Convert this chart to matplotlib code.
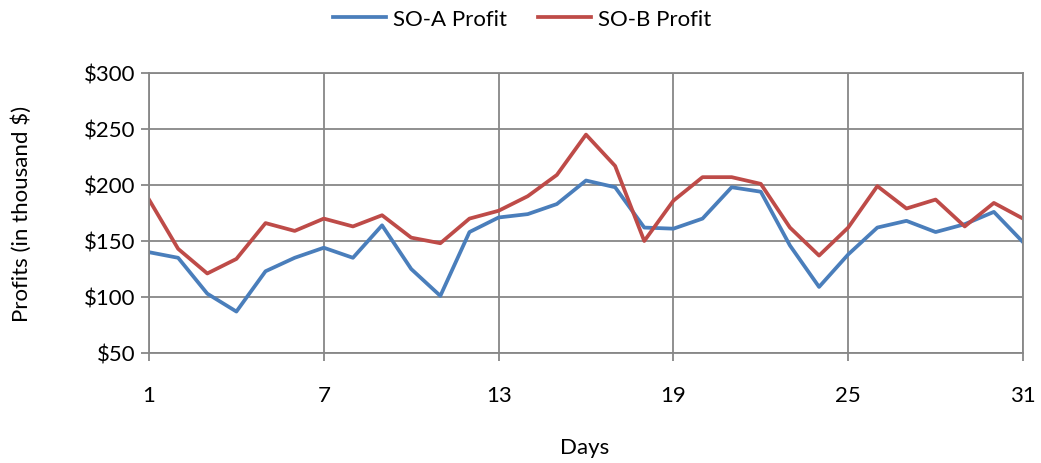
import matplotlib
matplotlib.use("Agg")
import matplotlib.pyplot as plt
from matplotlib.ticker import FuncFormatter

days = list(range(1, 32))
so_a = [140, 135, 103, 87, 123, 135, 144, 135, 164, 125, 101,
        158, 171, 174, 183, 204, 198, 162, 161, 170, 198, 194,
        146, 109, 138, 162, 168, 158, 165, 176, 149]
so_b = [187, 143, 121, 134, 166, 159, 170, 163, 173, 153, 148,
        170, 177, 190, 209, 245, 217, 150, 186, 207, 207, 201,
        162, 137, 162, 199, 179, 187, 163, 184, 170]
x_ticks = [1, 7, 13, 19, 25, 31]
y_ticks = [50, 100, 150, 200, 250, 300]

plt.rcParams['font.family'] = ['Lato', 'DejaVu Sans']
FS = 16

fig = plt.figure(figsize=(10.41, 4.64), dpi=100)
ax = fig.add_axes([149/1041, 1-354/464, (1023-149)/1041, (354-74)/464])

grid_c = '#878787'
ax.plot(days, so_a, color='#4a7ebb', lw=2.7, label='SO-A Profit')
ax.plot(days, so_b, color='#be4b48', lw=2.7, label='SO-B Profit')

ax.set_xlim(1, 31)
ax.set_ylim(50, 300)
ax.set_xticks(x_ticks)
ax.set_yticks(y_ticks)
ax.yaxis.set_major_formatter(FuncFormatter(lambda v, p: f"${int(v)}"))
ax.grid(True, color=grid_c, lw=1.3)
ax.set_axisbelow(True)
for s in ax.spines.values():
    s.set_color(grid_c)
    s.set_linewidth(1.3)
ax.tick_params(axis='both', colors=grid_c, labelcolor='black', length=6, width=1.3, labelsize=FS)
ax.tick_params(axis='x', pad=17)
ax.tick_params(axis='y', pad=4)

ax.set_xlabel('Days', fontsize=FS, va='center')
ax.set_ylabel('Profits (in thousand $)', fontsize=FS, va='center')
ax.xaxis.set_label_coords((585-149)/874, (354-448)/280)
ax.yaxis.set_label_coords((22-149)/874, 0.5)

fig.legend(loc='center', bbox_to_anchor=(522/1041, 1-20/464), ncol=2, frameon=False,
           fontsize=FS, handlelength=2.4, columnspacing=1.4, handletextpad=0.3)

fig.savefig('out.png', dpi=100)
